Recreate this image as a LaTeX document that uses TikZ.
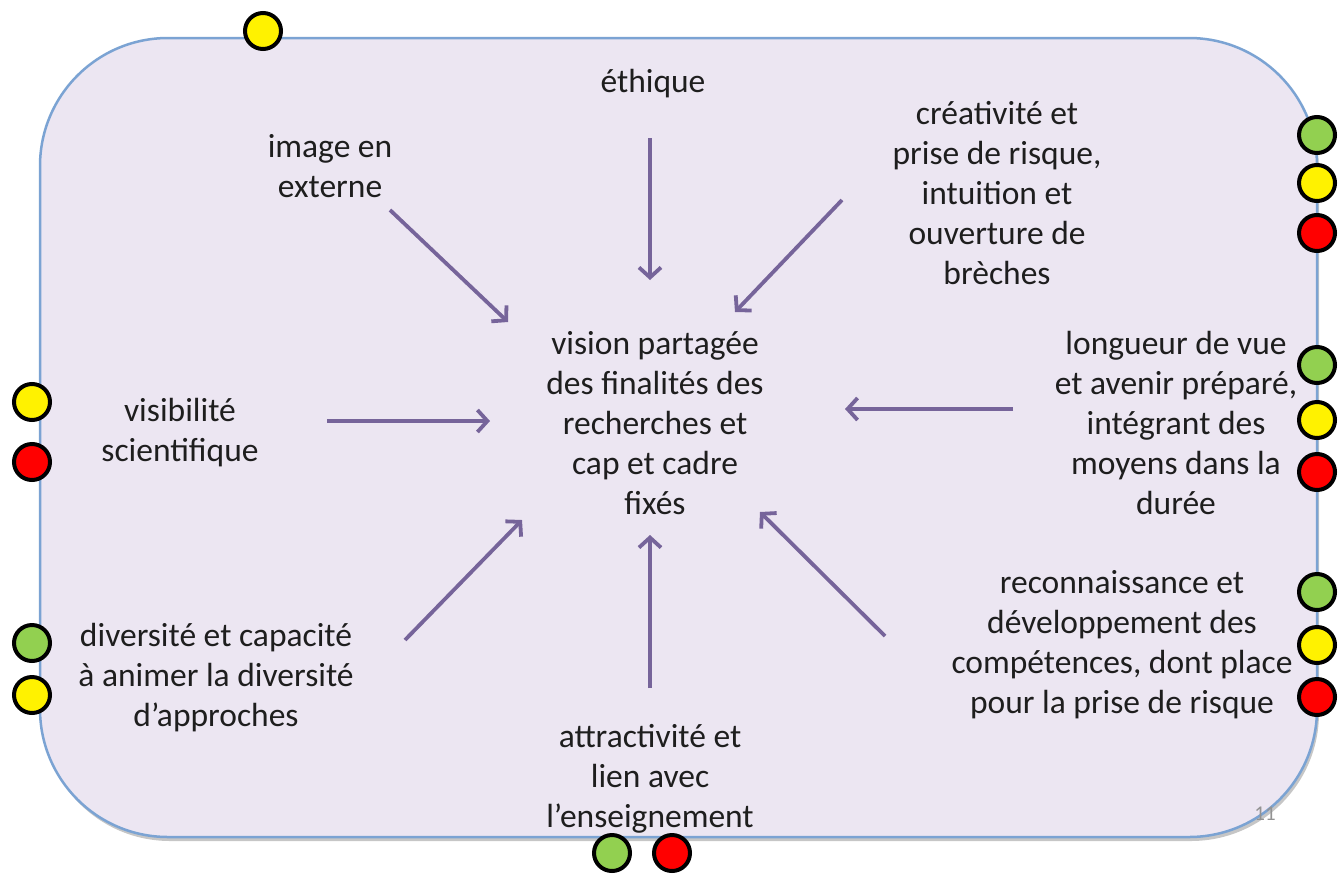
\documentclass[tikz,border=0pt]{standalone}
\usepackage{fontspec}
\setmainfont{Carlito}
\usepackage{tikz}
\usetikzlibrary{arrows.meta,shadows}
\definecolor{boxfill}{HTML}{ECE6F2}
\definecolor{boxline}{HTML}{7BA3D3}
\definecolor{arrowc}{HTML}{76649A}
\definecolor{txt}{HTML}{1E1E1E}
\definecolor{okgreen}{HTML}{92D050}
\tikzstyle{lbl} = [align=center, text=txt, inner sep=0pt, font=\fontsize{33.5}{40}\selectfont]
\tikzstyle{flow} = [arrowc, line width=3.8pt, -{Straight Barb[length=10pt,width=22pt]}]
\tikzstyle{lamp} = [circle, draw=black, line width=4pt, minimum size=36pt, inner sep=0pt]

\begin{document}
\begin{tikzpicture}[x=1pt,y=-1pt]
			\useasboundingbox (0,0) rectangle (1338,873);
			% fond
			\draw[fill=boxfill,draw=boxline,line width=2.5pt,rounded corners=128pt,
				drop shadow={shadow xshift=2pt,shadow yshift=-4pt,opacity=0.45}] (40,38) rectangle (1317,837);
			\node[text=gray!85,font=\fontsize{21}{21}\selectfont\rmfamily] (page) at (1265,814) {11};
			% textes
			\node[lbl] (centre) at (655,423) {vision partagée\\des finalités des\\recherches et\\cap et cadre\\fixés};
			\node[lbl] (ethique) at (653,84) {éthique};
			\node[lbl] (image) at (330,166) {image en\\externe};
			\node[lbl] (creativite) at (997,193) {créativité et\\prise de risque,\\intuition et\\ouverture de\\brèches};
			\node[lbl] (visibilite) at (180,433) {visibilité\\scientifique};
			\node[lbl] (longueur) at (1176,423) {longueur de vue\\et avenir préparé,\\intégrant des\\moyens dans la\\durée};
			\node[lbl] (diversite) at (216,678) {diversité et capacité\\à animer la diversité\\d’approches};
			\node[lbl] (attractivite) at (650,779) {attractivité et\\lien avec\\l’enseignement};
			\node[lbl] (reconnaissance) at (1122,645) {reconnaissance et\\développement des\\compétences, dont place\\pour la prise de risque};
			% fleches
			\coordinate (a1) at (390,210); \coordinate (b1) at (508,322);
			\coordinate (a2) at (650,138); \coordinate (b2) at (650,280);
			\coordinate (a3) at (842,200); \coordinate (b3) at (735,312);
			\coordinate (a4) at (327,421); \coordinate (b4) at (490,421);
			\coordinate (a5) at (1013,409); \coordinate (b5) at (845,409);
			\coordinate (a6) at (405,640); \coordinate (b6) at (522,520);
			\coordinate (a7) at (650,688); \coordinate (b7) at (650,535);
			\coordinate (a8) at (885,636); \coordinate (b8) at (760,512);
			\foreach \i in {1,...,8}
				\draw[flow] (a\i) -- (b\i);
			% pastilles
			\node[lamp,fill=yellow] (h1) at (263,31) {};
			\node[lamp,fill=okgreen] (r1) at (1317,135) {};
			\node[lamp,fill=yellow] (r2) at (1317,183) {};
			\node[lamp,fill=red] (r3) at (1317,233) {};
			\node[lamp,fill=okgreen] (r4) at (1317,365) {};
			\node[lamp,fill=yellow] (r5) at (1317,420) {};
			\node[lamp,fill=red] (r6) at (1317,472) {};
			\node[lamp,fill=okgreen] (r7) at (1317,592) {};
			\node[lamp,fill=yellow] (r8) at (1317,645) {};
			\node[lamp,fill=red] (r9) at (1317,697) {};
			\node[lamp,fill=yellow] (l1) at (32,402) {};
			\node[lamp,fill=red] (l2) at (32,462) {};
			\node[lamp,fill=okgreen] (l3) at (32,643) {};
			\node[lamp,fill=yellow] (l4) at (32,695) {};
			\node[lamp,fill=okgreen] (b1g) at (612,853) {};
			\node[lamp,fill=red] (b2r) at (672,853) {};
		\end{tikzpicture}
\end{document}
